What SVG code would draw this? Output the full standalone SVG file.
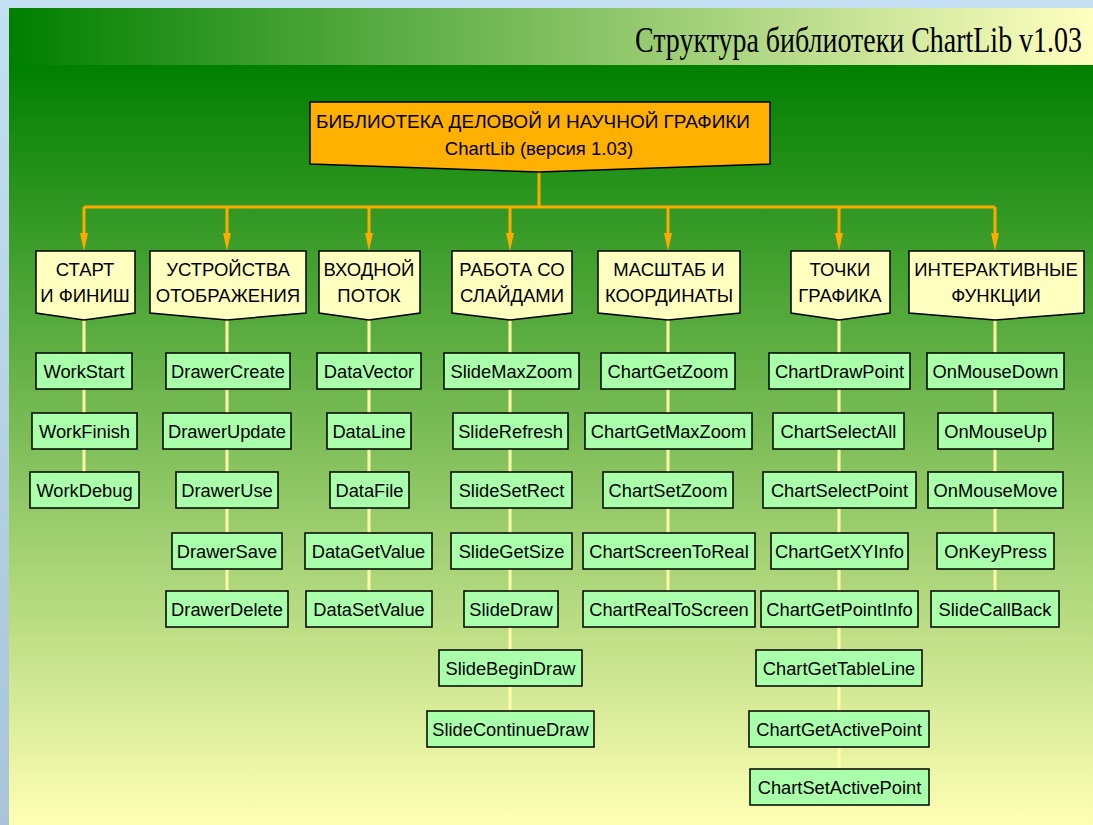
<svg xmlns="http://www.w3.org/2000/svg" width="1093" height="825" viewBox="0 0 1093 825">
<defs>
<linearGradient id="gTitle" x1="0" y1="0" x2="1" y2="0">
<stop offset="0" stop-color="#007F00"/>
<stop offset="1" stop-color="#FFFFC0"/>
</linearGradient>
<linearGradient id="gMain" x1="0" y1="0" x2="0" y2="1">
<stop offset="0" stop-color="#007F00"/>
<stop offset="1" stop-color="#FFFFB4"/>
</linearGradient>
<linearGradient id="gSide" x1="0" y1="0" x2="0" y2="1">
<stop offset="0" stop-color="#C4E0F2"/>
<stop offset="1" stop-color="#A8C4D8"/>
</linearGradient>
<marker id="arr" markerUnits="userSpaceOnUse" markerWidth="18" markerHeight="10" refX="9" refY="5" orient="auto" viewBox="0 0 18 10">
<path d="M0,1 L18,5 L0,9 Z" fill="#FFAA00"/>
</marker>
<style>
.bus{fill:none;stroke:#FFAA00;stroke-width:3}
.stem{fill:none;stroke:#FFFFA8;stroke-width:3}
.root{fill:#FFB000;stroke:#000;stroke-width:1.5}
.cat{fill:#FFFFC0;stroke:#000;stroke-width:1.5}
.leaf{fill:#AAFFAA;stroke:#000;stroke-width:1.5}
.t{font-family:"Liberation Sans",Arial,sans-serif;font-size:18.5px;fill:#000;text-anchor:middle}
.l{font-size:18.3px}
.title{font-family:"Liberation Serif","Times New Roman",serif;font-size:35px;fill:#000}
</style>
</defs>
<rect x="0" y="0" width="1093" height="825" fill="url(#gSide)"/>
<rect x="9" y="8" width="1084" height="57" fill="url(#gTitle)"/>
<rect x="9" y="65" width="1084" height="760" fill="url(#gMain)"/>
<text class="title" x="1082" y="52" text-anchor="end" textLength="447" lengthAdjust="spacingAndGlyphs">Структура библиотеки ChartLib v1.03</text>

<g id="connectors">
<path class="bus" d="M539,172 V207 M84,207 H995"/>
<path class="bus" marker-end="url(#arr)" d="M84,207 V242"/>
<path class="bus" marker-end="url(#arr)" d="M227,207 V242"/>
<path class="bus" marker-end="url(#arr)" d="M369,207 V242"/>
<path class="bus" marker-end="url(#arr)" d="M510,207 V242"/>
<path class="bus" marker-end="url(#arr)" d="M668,207 V242"/>
<path class="bus" marker-end="url(#arr)" d="M839,207 V242"/>
<path class="bus" marker-end="url(#arr)" d="M995,207 V242"/>
<path class="stem" d="M84,320 V472"/>
<path class="stem" d="M227,320 V591"/>
<path class="stem" d="M369,320 V591"/>
<path class="stem" d="M510,320 V711"/>
<path class="stem" d="M668,320 V591"/>
<path class="stem" d="M839,320 V769"/>
<path class="stem" d="M995,320 V591"/>
</g>

<g id="root">
<path class="root" d="M310,102 H770 V164 L539,172 L310,164 Z"/>
<text class="t" x="533" y="128" textLength="434" lengthAdjust="spacingAndGlyphs">БИБЛИОТЕКА ДЕЛОВОЙ И НАУЧНОЙ ГРАФИКИ</text>
<text class="t" x="539" y="155">ChartLib (версия 1.03)</text>
</g>

<g id="cat1"><path class="cat" d="M36,251 H135 V313 L84,320 L36,313 Z"/><text class="t" x="85" y="276">СТАРТ</text><text class="t" x="85" y="302">И ФИНИШ</text></g>
<g id="cat2"><path class="cat" d="M150,251 H306 V313 L227,320 L150,313 Z"/><text class="t" x="228" y="276">УСТРОЙСТВА</text><text class="t" x="228" y="302">ОТОБРАЖЕНИЯ</text></g>
<g id="cat3"><path class="cat" d="M319,251 H420 V313 L369,320 L319,313 Z"/><text class="t" x="369" y="276">ВХОДНОЙ</text><text class="t" x="369" y="302">ПОТОК</text></g>
<g id="cat4"><path class="cat" d="M452,251 H572 V313 L510,320 L452,313 Z"/><text class="t" x="512" y="276">РАБОТА СО</text><text class="t" x="512" y="302">СЛАЙДАМИ</text></g>
<g id="cat5"><path class="cat" d="M598,251 H740 V313 L668,320 L598,313 Z"/><text class="t" x="669" y="276">МАСШТАБ И</text><text class="t" x="669" y="302">КООРДИНАТЫ</text></g>
<g id="cat6"><path class="cat" d="M791,251 H890 V313 L839,320 L791,313 Z"/><text class="t" x="840" y="276">ТОЧКИ</text><text class="t" x="840" y="302">ГРАФИКА</text></g>
<g id="cat7"><path class="cat" d="M909,251 H1084 V313 L995,320 L909,313 Z"/><text class="t" x="996" y="276">ИНТЕРАКТИВНЫЕ</text><text class="t" x="996" y="302">ФУНКЦИИ</text></g>

<g id="WorkStart"><rect class="leaf" x="36" y="353" width="96" height="36"/><text class="t l" x="84" y="378">WorkStart</text></g>
<g id="WorkFinish"><rect class="leaf" x="32" y="413" width="105" height="36"/><text class="t l" x="84.5" y="438">WorkFinish</text></g>
<g id="WorkDebug"><rect class="leaf" x="30" y="472" width="109" height="36"/><text class="t l" x="84.5" y="497">WorkDebug</text></g>

<g id="DrawerCreate"><rect class="leaf" x="166" y="353" width="124" height="36"/><text class="t l" x="228" y="378">DrawerCreate</text></g>
<g id="DrawerUpdate"><rect class="leaf" x="163" y="413" width="128" height="36"/><text class="t l" x="227" y="438">DrawerUpdate</text></g>
<g id="DrawerUse"><rect class="leaf" x="176" y="472" width="102" height="36"/><text class="t l" x="227" y="497">DrawerUse</text></g>
<g id="DrawerSave"><rect class="leaf" x="172" y="533" width="110" height="36"/><text class="t l" x="227" y="558">DrawerSave</text></g>
<g id="DrawerDelete"><rect class="leaf" x="166" y="591" width="122" height="36"/><text class="t l" x="227" y="616">DrawerDelete</text></g>

<g id="DataVector"><rect class="leaf" x="317" y="353" width="104" height="36"/><text class="t l" x="369" y="378">DataVector</text></g>
<g id="DataLine"><rect class="leaf" x="327" y="413" width="84" height="36"/><text class="t l" x="369" y="438">DataLine</text></g>
<g id="DataFile"><rect class="leaf" x="330" y="472" width="79" height="36"/><text class="t l" x="369.5" y="497">DataFile</text></g>
<g id="DataGetValue"><rect class="leaf" x="305" y="533" width="127" height="36"/><text class="t l" x="368.5" y="558">DataGetValue</text></g>
<g id="DataSetValue"><rect class="leaf" x="306" y="591" width="126" height="36"/><text class="t l" x="369" y="616">DataSetValue</text></g>

<g id="SlideMaxZoom"><rect class="leaf" x="444" y="353" width="135" height="36"/><text class="t l" x="511.5" y="378">SlideMaxZoom</text></g>
<g id="SlideRefresh"><rect class="leaf" x="453" y="413" width="115" height="36"/><text class="t l" x="510.5" y="438">SlideRefresh</text></g>
<g id="SlideSetRect"><rect class="leaf" x="451" y="472" width="121" height="36"/><text class="t l" x="511.5" y="497">SlideSetRect</text></g>
<g id="SlideGetSize"><rect class="leaf" x="451" y="533" width="121" height="36"/><text class="t l" x="511.5" y="558">SlideGetSize</text></g>
<g id="SlideDraw"><rect class="leaf" x="464" y="591" width="94" height="36"/><text class="t l" x="511" y="616">SlideDraw</text></g>
<g id="SlideBeginDraw"><rect class="leaf" x="439" y="650" width="143" height="36"/><text class="t l" x="510.5" y="675">SlideBeginDraw</text></g>
<g id="SlideContinueDraw"><rect class="leaf" x="427" y="711" width="167" height="36"/><text class="t l" x="510.5" y="736">SlideContinueDraw</text></g>

<g id="ChartGetZoom"><rect class="leaf" x="601" y="353" width="134" height="36"/><text class="t l" x="668" y="378">ChartGetZoom</text></g>
<g id="ChartGetMaxZoom"><rect class="leaf" x="585" y="413" width="167" height="36"/><text class="t l" x="668.5" y="438">ChartGetMaxZoom</text></g>
<g id="ChartSetZoom"><rect class="leaf" x="603" y="472" width="130" height="36"/><text class="t l" x="668" y="497">ChartSetZoom</text></g>
<g id="ChartScreenToReal"><rect class="leaf" x="583" y="533" width="172" height="36"/><text class="t l" x="669" y="558">ChartScreenToReal</text></g>
<g id="ChartRealToScreen"><rect class="leaf" x="583" y="591" width="172" height="36"/><text class="t l" x="669" y="616">ChartRealToScreen</text></g>

<g id="ChartDrawPoint"><rect class="leaf" x="769" y="353" width="141" height="36"/><text class="t l" x="839.5" y="378">ChartDrawPoint</text></g>
<g id="ChartSelectAll"><rect class="leaf" x="773" y="413" width="131" height="36"/><text class="t l" x="838.5" y="438">ChartSelectAll</text></g>
<g id="ChartSelectPoint"><rect class="leaf" x="763" y="472" width="153" height="36"/><text class="t l" x="839.5" y="497">ChartSelectPoint</text></g>
<g id="ChartGetXYInfo"><rect class="leaf" x="771" y="533" width="137" height="36"/><text class="t l" x="839.5" y="558">ChartGetXYInfo</text></g>
<g id="ChartGetPointInfo"><rect class="leaf" x="761" y="591" width="157" height="36"/><text class="t l" x="839.5" y="616">ChartGetPointInfo</text></g>
<g id="ChartGetTableLine"><rect class="leaf" x="756" y="650" width="166" height="36"/><text class="t l" x="839" y="675">ChartGetTableLine</text></g>
<g id="ChartGetActivePoint"><rect class="leaf" x="749" y="711" width="180" height="36"/><text class="t l" x="839" y="736">ChartGetActivePoint</text></g>
<g id="ChartSetActivePoint"><rect class="leaf" x="750" y="769" width="179" height="36"/><text class="t l" x="839.5" y="794">ChartSetActivePoint</text></g>

<g id="OnMouseDown"><rect class="leaf" x="927" y="353" width="137" height="36"/><text class="t l" x="995.5" y="378">OnMouseDown</text></g>
<g id="OnMouseUp"><rect class="leaf" x="938" y="413" width="115" height="36"/><text class="t l" x="995.5" y="438">OnMouseUp</text></g>
<g id="OnMouseMove"><rect class="leaf" x="928" y="472" width="135" height="36"/><text class="t l" x="995.5" y="497">OnMouseMove</text></g>
<g id="OnKeyPress"><rect class="leaf" x="937" y="533" width="117" height="36"/><text class="t l" x="995.5" y="558">OnKeyPress</text></g>
<g id="SlideCallBack"><rect class="leaf" x="931" y="591" width="128" height="36"/><text class="t l" x="995" y="616">SlideCallBack</text></g>
</svg>
